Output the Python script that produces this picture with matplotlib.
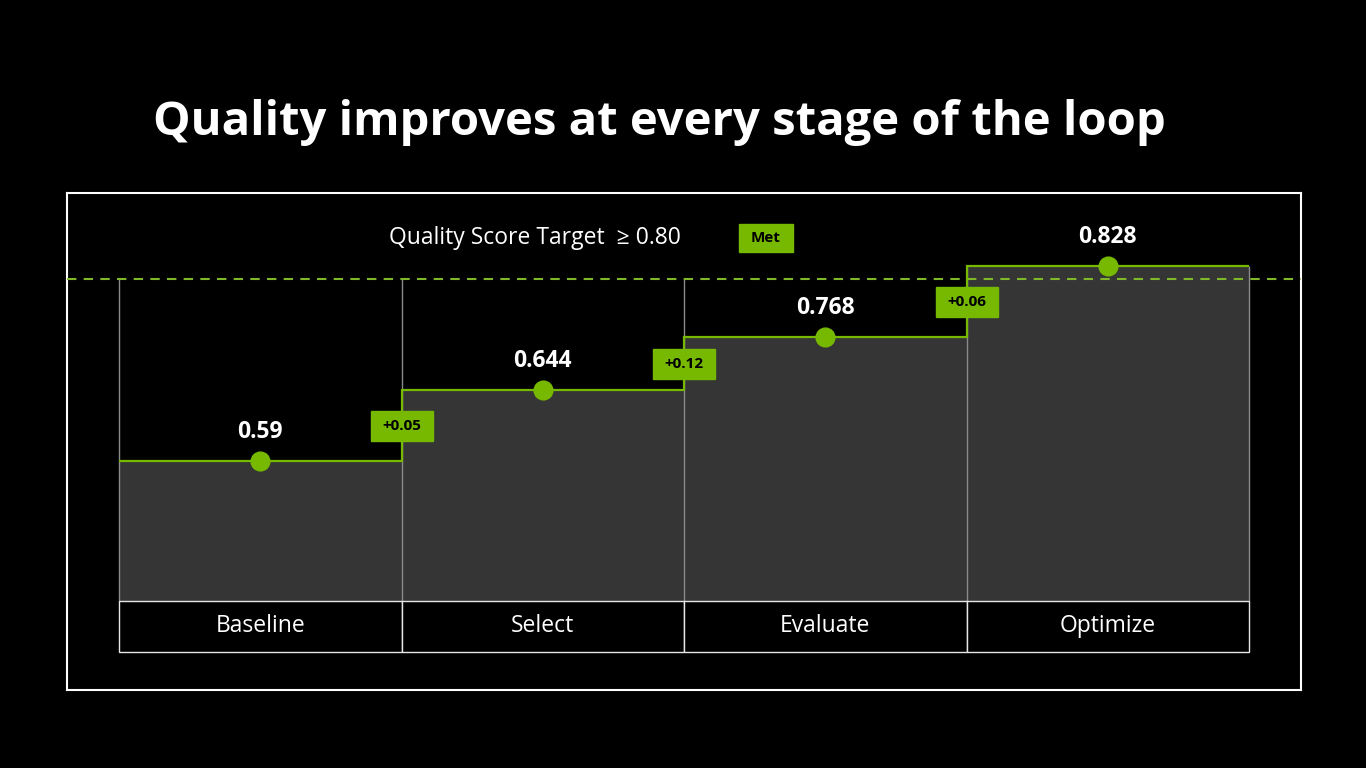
import numpy as np
import matplotlib
matplotlib.use("Agg")
import matplotlib.pyplot as plt
from matplotlib.patches import Rectangle

# data
stages = ["Baseline", "Select", "Evaluate", "Optimize"]
scores = [0.59, 0.644, 0.768, 0.828]
# step heights as drawn in the picture (same units as the target line)
drawn_levels = [0.348, 0.524, 0.656, 0.832]
deltas = ["+0.05", "+0.12", "+0.06"]
target = 0.80
target_label = "Quality Score Target  \u2265 0.80"
status = "Met"
title = "Quality improves at every stage of the loop"

green = "#76b900"
fill_gray = "#353535"
edge_gray = "#8a8a8a"

plt.rcParams["font.family"] = ["Open Sans", "DejaVu Sans"]

fig = plt.figure(figsize=(13.66, 7.68), dpi=100, facecolor="black")
W, H = 1366, 768
ax = fig.add_axes([67 / W, (H - 690) / H, (1301 - 67) / W, (690 - 193) / H])
ax.set_facecolor("black")
for s in ax.spines.values():
    s.set_color("white")
    s.set_linewidth(1.5)
ax.set_xticks([])
ax.set_yticks([])

# pixel scale of the drawing area
px_x = 282.5
px_y = 402.5
ax.set_xlim(-(119 - 67) / px_x, len(stages) + (1301 - 1249) / px_x)
ax.set_ylim(-(690 - 601) / px_y, (601 - 193) / px_y)

edges = np.arange(len(stages) + 1)
centers = edges[:-1] + 0.5
levels = np.array(drawn_levels)

# filled steps
ax.stairs(levels, edges, baseline=0, fill=True, color=fill_gray, zorder=1)

# column separators
padded = np.concatenate([[0], levels, [0]])
tops = np.maximum(np.maximum(padded[:-1], padded[1:]), target)
ax.vlines(edges, 0, tops, color=edge_gray, lw=1, zorder=2)

# target line
ax.axhline(target, color="#80b82a", lw=1.5, ls=(0, (4.5, 3.5)), zorder=3)

# step outline and markers
ax.stairs(levels, edges, baseline=None, color=green, lw=1.6, zorder=4)
ax.plot(centers, levels, "o", ms=13.5, color=green, zorder=5)

for x, y, v in zip(centers, levels, scores):
    ax.annotate(f"{v:g}", (x, y), xytext=(0, 21), textcoords="offset points",
                ha="center", va="center", color="white", fontsize=16.5,
                fontweight="bold", zorder=6)

# delta badges at each step-up
bw, bh = 62 / px_x, 30 / px_y
for i, d in enumerate(deltas):
    x = edges[i + 1]
    y = (levels[i] + levels[i + 1]) / 2
    ax.add_patch(Rectangle((x - bw / 2, y - bh / 2), bw, bh, color=green, zorder=7))
    ax.text(x, y, d, ha="center", va="center", color="black", fontsize=11,
            fontweight="bold", zorder=8)

# target caption + status badge
ax.text((535 - 119) / px_x, (601 - 238) / px_y, target_label, ha="center",
        va="center", color="white", fontsize=16.5)
mx, my = (766 - 119) / px_x, (601 - 238) / px_y
mw, mh = 54 / px_x, 28 / px_y
ax.add_patch(Rectangle((mx - mw / 2, my - mh / 2), mw, mh, color=green))
ax.text(mx, my, status, ha="center", va="center", color="black", fontsize=11,
        fontweight="bold")

# category table under the chart
ch = 51 / px_y
for i, name in enumerate(stages):
    ax.add_patch(Rectangle((edges[i], -ch), 1, ch, facecolor="black",
                           edgecolor="#e6e6e6", lw=1, zorder=3))
    ax.text(centers[i], -ch / 2, name, ha="center", va="center", color="white",
            fontsize=16.5, zorder=4)

fig.text(153 / W, 1 - 122 / H, title, ha="left", va="center", color="white",
         fontsize=34, fontweight="bold")

fig.savefig("out.png", dpi=100, facecolor="black")
